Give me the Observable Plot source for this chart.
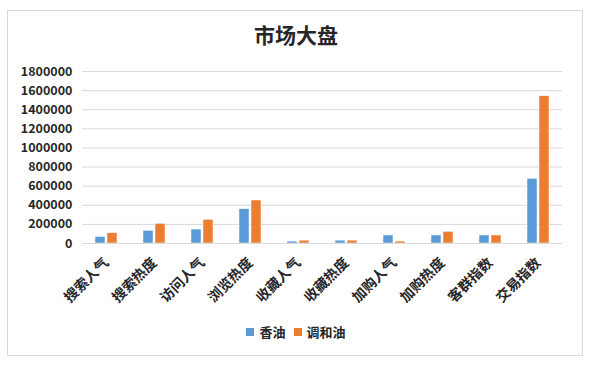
<!DOCTYPE html>
<html>
<head>
<meta charset="utf-8">
<script src="https://cdn.jsdelivr.net/npm/d3@7"></script>
<script src="https://cdn.jsdelivr.net/npm/@observablehq/plot@0.6"></script>
<style>
  html, body { margin: 0; padding: 0; background: #fff; }
  body { width: 592px; height: 366px; position: relative; overflow: hidden; font-family: "Noto Sans CJK SC", "Noto Sans", sans-serif; }
  #frame { position: absolute; left: 7px; top: 10px; width: 574px; height: 344px; border: 1px solid #d9d9d9; box-sizing: content-box; }
  #title { position: absolute; left: 0; width: 592px; top: 20px; text-align: center; font-size: 21px; font-weight: bold; color: #262626; line-height: 28px; }
  #chart { position: absolute; left: 0; top: 60px; }
  #legend { position: absolute; left: 0; width: 592px; top: 322px; display: flex; justify-content: center; align-items: center; font-size: 13px; font-weight: bold; color: #262626; }
  .item { display: flex; align-items: center; margin: 0 4px; }
  .sw { width: 8px; height: 8px; margin-right: 5px; }
</style>
</head>
<body>
<div id="frame"></div>
<div id="title">市场大盘</div>
<div id="chart"></div>
<div id="legend"></div>
<script>
const categories = ["搜索人气", "搜索热度", "访问人气", "浏览热度", "收藏人气", "收藏热度", "加购人气", "加购热度", "客群指数", "交易指数"];
const seriesNames = ["香油", "调和油"];
const xiangyou = [68000, 133000, 146000, 359000, 20000, 30000, 84000, 84000, 84000, 677000];
const tiaoheyou = [108000, 206000, 248000, 450000, 30000, 30000, 20000, 122000, 84000, 1541000];
const yTicks = [0, 200000, 400000, 600000, 800000, 1000000, 1200000, 1400000, 1600000, 1800000];
const colors = ["#5b9bd5", "#ed7d31"];

const data = categories.flatMap((c, i) => [
  {cat: c, series: seriesNames[0], value: xiangyou[i]},
  {cat: c, series: seriesNames[1], value: tiaoheyou[i]}
]);

const chart = Plot.plot({
  width: 592,
  height: 250,
  marginLeft: 78,
  marginRight: 27,
  marginTop: 11,
  marginBottom: 67,
  style: {fontFamily: "'Noto Sans CJK SC', sans-serif", fontSize: "12px", color: "#262626", background: "transparent", overflow: "visible"},
  fx: {domain: categories, padding: 0, label: null},
  x: {domain: seriesNames, paddingInner: 0.15, paddingOuter: 0.95, axis: null},
  y: {domain: [0, 1800000], label: null},
  color: {domain: seriesNames, range: colors},
  marks: [
    Plot.gridY(yTicks, {stroke: "#d9d9d9", strokeOpacity: 1, strokeWidth: 1}),
    Plot.axisY(yTicks, {tickSize: 0, tickPadding: 10, tickFormat: d => String(d), fontWeight: "bold", fontSize: 12.5, label: null}),
    Plot.axisFx({anchor: "bottom", tickRotate: -45, tickSize: 0, tickPadding: 17, fontWeight: "bold", fontSize: 14, label: null}),
    Plot.barY(data, {fx: "cat", x: "series", y: "value", fill: "series", stroke: "white", strokeWidth: 0.5}),
    Plot.ruleY([0], {stroke: "#d9d9d9", strokeWidth: 1})
  ]
});
document.getElementById("chart").appendChild(chart);

const legend = document.getElementById("legend");
seriesNames.forEach((s, i) => {
  const item = document.createElement("div");
  item.className = "item";
  const sw = document.createElement("span");
  sw.className = "sw";
  sw.style.background = colors[i];
  const t = document.createElement("span");
  t.textContent = s;
  item.appendChild(sw);
  item.appendChild(t);
  legend.appendChild(item);
});
</script>
</body>
</html>
